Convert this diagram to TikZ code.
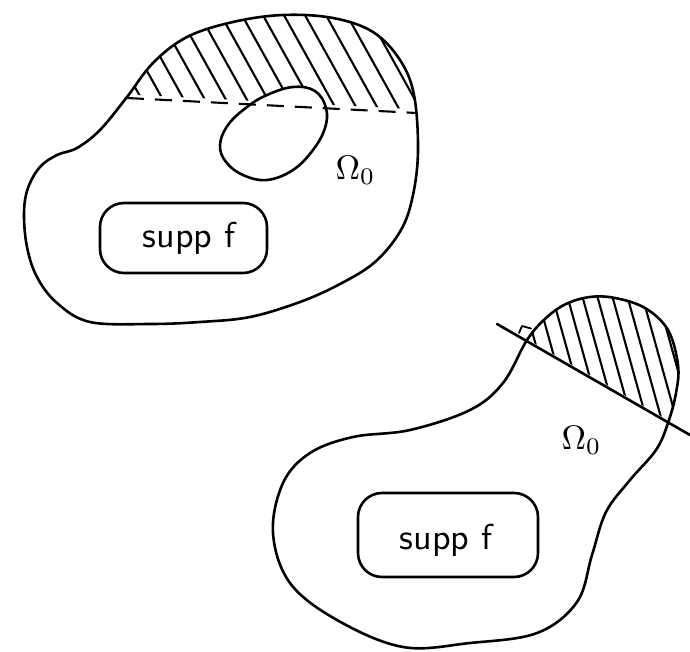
\documentclass[tikz,border=0pt]{standalone}
\begin{document}
\begin{tikzpicture}[x=1pt,y=-1pt,line join=round,line cap=round,
  outline/.style={line width=2.6pt},
  hatchline/.style={line width=2.1pt},
  cutline/.style={line width=2.6pt},
  dashline/.style={line width=2.1pt,line cap=butt,dash pattern=on 17pt off 11pt},
  suppbox/.style={draw,line width=2.6pt,rounded corners=24pt,inner sep=0pt},
  supptext/.style={font=\sffamily,scale=3.6},
  omegalabel/.style={anchor=west,inner sep=0pt,scale=3.4}]
\useasboundingbox (0,0) rectangle (690,652);

% outlines of the two domains and the hole
\def\topblob{plot[smooth cycle,tension=0.6] coordinates {
  (127,97) (153,63) (187,37) (233,22) (283,15) (333,18) (373,32) (400,60)
  (414,95) (418,150) (413,195) (401,230) (375,262) (340,284) (300,302)
  (250,317) (200,322) (150,324) (90,322) (57,303) (37,277) (27,247)
  (24,213) (28,188) (40,167) (57,155) (77,148) (100,130)}}
\def\hole{plot[smooth cycle,tension=0.65] coordinates {
  (293,87) (315,91) (326,108) (325,128) (313,150) (293,170) (267,180)
  (243,175) (226,162) (220,145) (228,125) (247,107) (267,95)}}
\def\botblob{plot[smooth cycle,tension=0.6] coordinates {
  (527,340) (503,383) (470,410) (410,430) (353,437) (310,453) (283,483)
  (273,533) (290,583) (337,620) (403,647) (470,643) (537,633) (577,602)
  (592,555) (606,512) (630,480) (656,450) (668,423) (676,393) (678,365)
  (668,330) (645,308) (615,298) (590,297) (566,304) (546,318)}}

% upper domain: hatched cap above the dashed line
\coordinate (dashA) at (127,98);
\coordinate (dashB) at (417,113);
\begin{scope}
  \clip \topblob;
  \clip (90,92.5) -- (450,111) -- (450,0) -- (90,0) -- cycle;
  \foreach \i in {0,...,18}
    \draw[hatchline] (60+21*\i,-10) -- ++(75,135);
\end{scope}
\filldraw[outline,fill=white] \hole;
\draw[dashline] (dashA) -- (dashB);
\draw[outline] \topblob;
\node[suppbox,minimum width=167pt,minimum height=70pt] (supp1) at (183.5,238) {};
\node[supptext] (supptext1) at (189,238) {supp f};
\node[omegalabel] (omega1) at (335,170) {$\Omega_0$};

% lower domain: cap cut off by a straight line
\coordinate (cutA) at (497,324);
\coordinate (cutB) at (690,435);
\begin{scope}
  \clip \botblob;
  \clip (480,312) -- (700,438.5) -- (700,280) -- (480,280) -- cycle;
  \foreach \i in {0,...,15}
    \draw[hatchline] (470+15*\i,270) -- ++(50,180);
\end{scope}
\draw[outline] \botblob;
\draw[cutline] (cutA) -- (cutB);
\coordinate (rA) at (519,333);
\coordinate (rB) at (522,326);
\coordinate (rC) at (531,328.5);
\draw[line width=1.8pt] (rA) -- (rB) -- (rC);
\node[suppbox,minimum width=180pt,minimum height=84pt] (supp2) at (448,535) {};
\node[supptext] (supptext2) at (446,540) {supp f};
\node[omegalabel] (omega2) at (561,440) {$\Omega_0$};
\end{tikzpicture}
\end{document}
